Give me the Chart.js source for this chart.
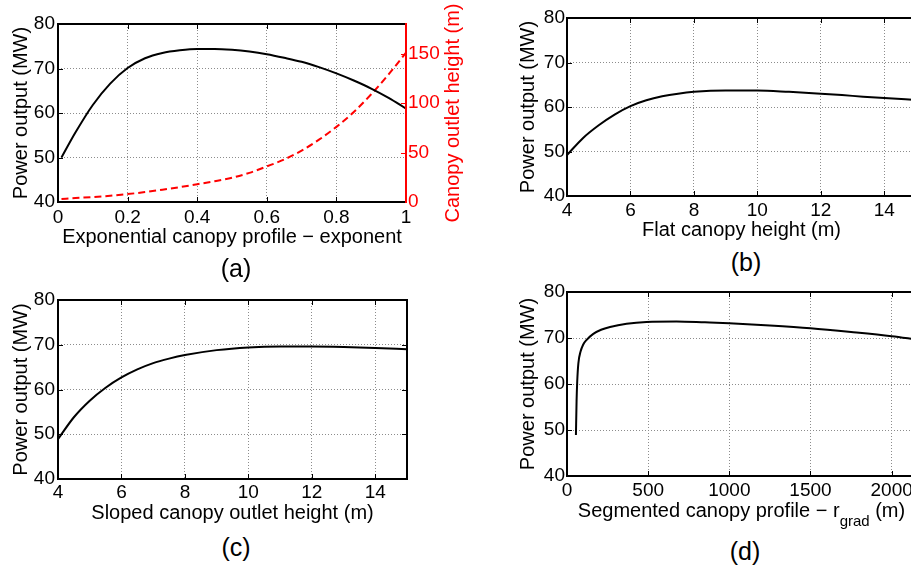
<!DOCTYPE html>
<html>
<head>
<meta charset="utf-8">
<script src="https://cdn.jsdelivr.net/npm/chart.js@4.4.1/dist/chart.umd.min.js"></script>
<style>
html, body { margin: 0; padding: 0; background: #fff; overflow: hidden; width: 911px; height: 566px; }
body { position: relative; font-family: 'Liberation Sans', Arial, Helvetica, sans-serif; color: #000; }
canvas { position: absolute; }
.cap { position: absolute; width: 200px; text-align: center; font-size: 25px; line-height: 30px; }
#dTitle { position: absolute; left: 567px; width: 349px; top: 498px; text-align: center; font-size: 20px; line-height: 24px; white-space: nowrap; }
#dTitle span { font-size: 15px; position: relative; top: 9px; }
</style>
</head>
<body>
<canvas id="chartA" width="472" height="252" style="left:0;top:0"></canvas>
<canvas id="chartB" width="411" height="245" style="left:505px;top:0"></canvas>
<canvas id="chartC" width="420" height="249" style="left:0;top:280px"></canvas>
<canvas id="chartD" width="411" height="236" style="left:505px;top:280px"></canvas>
<div class="cap" style="left:136px;top:253px">(a)</div>
<div class="cap" style="left:646px;top:247px">(b)</div>
<div class="cap" style="left:136px;top:532px">(c)</div>
<div class="cap" style="left:645px;top:536px">(d)</div>
<div id="dTitle">Segmented canopy profile − r<span>grad</span> (m)</div>
<script>
const FONT = "'Liberation Sans', Arial, Helvetica, sans-serif";

// (a) exponential canopy profile
const aExponent = [0.01, 0.05, 0.1, 0.15, 0.2, 0.25, 0.3, 0.35, 0.4, 0.45, 0.5, 0.55, 0.6, 0.65, 0.7, 0.75, 0.8, 0.85, 0.9, 0.95, 1.0];
const aPower = [50.0, 55.6, 61.8, 66.6, 70.1, 72.3, 73.5, 74.1, 74.4, 74.4, 74.2, 73.8, 73.2, 72.4, 71.5, 70.3, 68.9, 67.3, 65.5, 63.4, 61.0];
const aOutletHeight = [3, 4, 5, 6.3, 8, 10, 12.5, 15, 18, 21, 24.5, 29.5, 36, 43, 52, 63, 76, 91, 109, 129, 151];

// (b) flat canopy
const bHeight = [4, 4.5, 5, 5.5, 6, 6.5, 7, 7.5, 8, 9, 10, 11, 12, 13, 14, 15];
const bPower = [49.2, 53.0, 55.9, 58.3, 60.2, 61.5, 62.4, 63.0, 63.4, 63.7, 63.7, 63.4, 63.0, 62.5, 62.0, 61.6];

// (c) sloped canopy
const cHeight = [4, 4.5, 5, 5.5, 6, 6.5, 7, 7.5, 8, 9, 10, 11, 12, 13, 14, 15];
const cPower = [48.9, 53.8, 57.5, 60.4, 62.7, 64.5, 65.9, 66.9, 67.7, 68.8, 69.4, 69.6, 69.6, 69.5, 69.3, 69.0];

// (d) segmented canopy
const dRgrad = [55, 59, 63, 70, 84, 100, 121, 162, 210, 265, 367, 490, 675, 850, 1000, 1250, 1500, 1750, 2000, 2150];
const dPower = [48.9, 56.3, 60.6, 64.5, 67.1, 68.6, 69.6, 70.9, 71.8, 72.4, 73.1, 73.5, 73.6, 73.4, 73.2, 72.7, 72.1, 71.3, 70.4, 69.7];

// tick values
const powerTicks = [40, 50, 60, 70, 80];
const exponentTicks = [0, 0.2, 0.4, 0.6, 0.8, 1];
const outletTicks = [0, 50, 100, 150];
const heightTicks = [4, 6, 8, 10, 12, 14];
const rgradTicks = [0, 500, 1000, 1500, 2000];

Chart.defaults.font.family = FONT;
Chart.defaults.color = '#000';

const boxPlugin = {
    id: 'box',
    afterDraw(chart, args, opts) {
        const { ctx, chartArea: a, scales } = chart;
        const L = 5;
        const seg = (x1, y1, x2, y2, c) => {
            ctx.strokeStyle = c; ctx.beginPath(); ctx.moveTo(x1, y1); ctx.lineTo(x2, y2); ctx.stroke();
        };
        ctx.save();
        ctx.lineWidth = 1;
        scales.x.ticks.forEach(t => {
            const p = Math.round(scales.x.getPixelForValue(t.value)) + 0.5;
            if (p < a.left + 2 || p > a.right - 2) return;
            seg(p, a.bottom, p, a.bottom - L, '#000');
            seg(p, a.top, p, a.top + L, '#000');
        });
        scales.y.ticks.forEach(t => {
            const p = Math.round(scales.y.getPixelForValue(t.value)) + 0.5;
            if (p < a.top + 2 || p > a.bottom - 2) return;
            seg(a.left, p, a.left + L, p, '#000');
            if (!scales.y2) seg(a.right, p, a.right - L, p, '#000');
        });
        if (scales.y2) {
            scales.y2.ticks.forEach(t => {
                const p = Math.round(scales.y2.getPixelForValue(t.value)) + 0.5;
                if (p < a.top + 2 || p > a.bottom - 2) return;
                seg(a.right, p, a.right - L, p, opts.rightColor);
            });
        }
        ctx.lineWidth = 2;
        ctx.strokeStyle = '#000';
        ctx.strokeRect(a.left, a.top, a.right - a.left, a.bottom - a.top);
        if (opts.rightColor) seg(a.right, a.top - 1, a.right, a.bottom + 1, opts.rightColor);
        if (opts.sideTitle) {
            ctx.translate(opts.sideTitle.x, (a.top + a.bottom) / 2);
            ctx.rotate(-Math.PI / 2);
            ctx.font = '20px ' + FONT;
            ctx.fillStyle = opts.sideTitle.color;
            ctx.textAlign = 'center';
            ctx.textBaseline = 'middle';
            ctx.fillText(opts.sideTitle.text, 0, 0);
        }
        ctx.restore();
    }
};
Chart.register(boxPlugin);

function fixSize(w, h) {
    return function (scale) {
        if (w != null) scale.width = w;
        if (h != null) scale.height = h;
        scale.paddingTop = 0; scale.paddingBottom = 0;
        scale.paddingLeft = 0; scale.paddingRight = 0;
    };
}

function xAxis(min, max, vals, h, tickPad, title, titlePad) {
    return {
        type: 'linear', position: 'bottom', min, max,
        afterBuildTicks: s => { s.ticks = vals.map(v => ({ value: v })); },
        afterFit: fixSize(null, h),
        grid: { color: '#8c8c8c', lineWidth: 1, drawTicks: false },
        border: { display: false, dash: [1, 2] },
        ticks: { padding: tickPad, font: { size: 19 }, maxRotation: 0, autoSkip: false, callback: v => String(v) },
        title: { display: !!title, text: title, font: { size: 20 }, padding: { top: 0, bottom: titlePad } }
    };
}

function yAxis(pos, min, max, vals, w, tickPad, title, titlePad, color) {
    return {
        type: 'linear', position: pos, min, max,
        afterBuildTicks: s => { s.ticks = vals.map(v => ({ value: v })); },
        afterFit: fixSize(w, null),
        grid: { display: pos === 'left', color: '#8c8c8c', lineWidth: 1, drawTicks: false },
        border: { display: false, dash: [1, 2] },
        ticks: { padding: tickPad, font: { size: 19 }, color: color || '#000', autoSkip: false, callback: v => String(v) },
        title: { display: !!title, text: title, font: { size: 20 }, color: color || '#000', padding: { top: titlePad, bottom: 0 } }
    };
}

function series(xs, ys, color, axis, dash) {
    return {
        data: xs.map((x, i) => ({ x: x, y: ys[i] })),
        borderColor: color, borderWidth: 2, borderDash: dash || [],
        pointRadius: 0, cubicInterpolationMode: 'monotone', fill: false, yAxisID: axis
    };
}

function panel(id, pad, datasets, scales, box) {
    return new Chart(document.getElementById(id), {
        type: 'line',
        data: { datasets },
        options: {
            responsive: false, animation: false,
            layout: { padding: pad },
            plugins: { legend: { display: false }, tooltip: { enabled: false }, box: box || {} },
            scales
        }
    });
}

panel('chartA', { top: 24, right: 0, left: 0, bottom: 0 },
    [series(aExponent, aPower, '#000', 'y'), series(aExponent, aOutletHeight, '#ff0000', 'y2', [7, 4])],
    {
        x: xAxis(0, 1, exponentTicks, 50, 4, 'Exponential canopy profile − exponent', 3),
        y: yAxis('left', 40, 80, powerTicks, 58, 3, 'Power output (MW)', 9),
        y2: yAxis('right', 0, 180, outletTicks, 66, 2, '', 0, '#ff0000')
    },
    { rightColor: '#ff0000', sideTitle: { x: 453, text: 'Canopy outlet height (m)', color: '#ff0000' } });

panel('chartB', { top: 18, right: 0, left: 0, bottom: 0 },
    [series(bHeight, bPower, '#000', 'y')],
    {
        x: xAxis(4, 15, heightTicks, 49, 3, 'Flat canopy height (m)', 3),
        y: yAxis('left', 40, 80, powerTicks, 62, 2, 'Power output (MW)', 11)
    });

panel('chartC', { top: 20, right: 13, left: 0, bottom: 0 },
    [series(cHeight, cPower, '#000', 'y')],
    {
        x: xAxis(4, 15, heightTicks, 50, 2, 'Sloped canopy outlet height (m)', 4),
        y: yAxis('left', 40, 80, powerTicks, 58, 3, 'Power output (MW)', 9)
    });

panel('chartD', { top: 12, right: 0, left: 0, bottom: 0 },
    [series(dRgrad, dPower, '#000', 'y')],
    {
        x: xAxis(0, 2150, rgradTicks, 40, 3, '', 0),
        y: yAxis('left', 40, 80, powerTicks, 62, 2, 'Power output (MW)', 11)
    });
</script>
</body>
</html>
